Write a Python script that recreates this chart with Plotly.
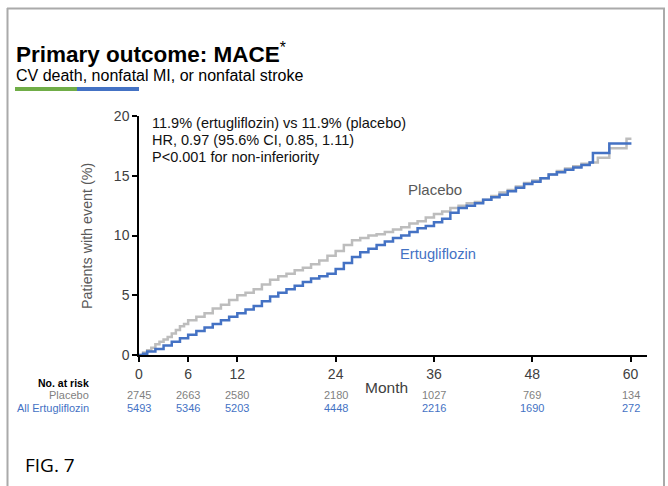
import plotly.graph_objects as go

# ---------------- data ----------------
placebo_month = [0, 0.5, 1, 1.5, 2, 2.5, 3, 3.5, 4, 4.5, 5, 5.5, 6, 7, 8, 9, 10, 11, 12, 13, 14, 15,
                 16, 17, 18, 19, 20, 21, 22, 23, 24, 25, 26, 27, 28, 29, 30, 31, 32, 33, 34, 35, 36,
                 37, 38, 39, 40, 41, 42, 43, 44, 45, 46, 47, 48, 49, 50, 51, 52, 53, 54, 55, 56,
                 57.4, 59.5, 60.1]
placebo_pct = [0, 0.2, 0.4, 0.6, 0.9, 1.1, 1.3, 1.5, 1.8, 2.1, 2.4, 2.6, 2.9, 3.2, 3.5, 3.9, 4.2, 4.6,
               5.0, 5.2, 5.5, 5.9, 6.3, 6.6, 6.8, 7.1, 7.3, 7.6, 7.9, 8.3, 8.7, 9.2, 9.6, 9.8, 10.0,
               10.1, 10.3, 10.5, 10.7, 11.0, 11.2, 11.5, 11.8, 12.0, 12.3, 12.5, 12.7, 12.8, 13.0,
               13.3, 13.6, 13.8, 14.1, 14.4, 14.6, 14.8, 15.1, 15.4, 15.6, 15.8, 16.0, 16.1, 16.5,
               17.3, 18.1, 18.1]

ertu_month = [0, 0.5, 1, 2, 3, 4, 5, 6, 7, 8, 9, 10, 11, 12, 13, 14, 15, 16, 17, 18, 19, 20, 21, 22,
              23, 24, 25, 26, 27, 28, 29, 30, 31, 32, 33, 34, 35, 36, 37, 38, 39, 40, 41, 42, 43, 44,
              45, 46, 47, 48, 49, 50, 51, 52, 53, 54, 55, 55.4, 57.4, 60.1]
ertu_pct = [0, 0.1, 0.3, 0.5, 0.8, 1.1, 1.4, 1.7, 2.0, 2.3, 2.6, 2.9, 3.2, 3.5, 3.8, 4.1, 4.5, 4.9,
            5.2, 5.5, 5.8, 6.1, 6.4, 6.6, 6.8, 7.2, 7.7, 8.2, 8.6, 8.9, 9.2, 9.5, 9.8, 10.0, 10.3,
            10.6, 10.8, 11.1, 11.4, 11.9, 12.3, 12.5, 12.7, 13.0, 13.2, 13.4, 13.7, 14.0, 14.3,
            14.5, 14.8, 15.1, 15.3, 15.5, 15.7, 15.9, 16.1, 16.9, 17.7, 17.7]

risk_months = [0, 6, 12, 24, 36, 48, 60]
risk_placebo = [2745, 2663, 2580, 2180, 1027, 769, 134]
risk_ertu = [5493, 5346, 5203, 4448, 2216, 1690, 272]
y_ticks = [0, 5, 10, 15, 20]

GRAY = "#BDBDBD"
BLUE = "#4472C4"
FONT = "Arial, Liberation Sans, sans-serif"

W, H = 668, 486
L, R, T, B = 139, 21, 116, 131
PW, PH = W - L - R, H - T - B


def px(x):
    return (x - L) / PW


def py(y):
    return (H - B - y) / PH


fig = go.Figure()
fig.add_trace(go.Scatter(x=placebo_month, y=placebo_pct, mode="lines", line_shape="hv",
                         line=dict(color=GRAY, width=2.5), cliponaxis=False, showlegend=False,
                         hoverinfo="skip"))
fig.add_trace(go.Scatter(x=ertu_month, y=ertu_pct, mode="lines", line_shape="hv",
                         line=dict(color=BLUE, width=2.5), cliponaxis=False, showlegend=False,
                         hoverinfo="skip"))

ann = []
# stats text
for i, t in enumerate(["11.9% (ertugliflozin) vs 11.9% (placebo)",
                       "HR, 0.97 (95.6% CI, 0.85, 1.11)",
                       "P<0.001 for non-inferiority"]):
    ann.append(dict(x=px(150), y=py(123 + 17 * i), xref="paper", yref="paper", text=t,
                    showarrow=False, xanchor="left", yanchor="middle",
                    font=dict(family=FONT, size=14.5, color="#111111")))
ann.append(dict(x=px(406), y=py(189), xref="paper", yref="paper", text="Placebo", showarrow=False,
                xanchor="left", yanchor="middle", font=dict(family=FONT, size=15, color="#595959")))
ann.append(dict(x=px(398), y=py(254), xref="paper", yref="paper", text="Ertugliflozin",
                showarrow=False, xanchor="left", yanchor="middle",
                font=dict(family=FONT, size=14.7, color=BLUE)))
# y axis title
ann.append(dict(x=px(87), y=py(236), xref="paper", yref="paper", text="Patients with event (%)",
                showarrow=False, textangle=-90, xanchor="center", yanchor="middle",
                font=dict(family=FONT, size=14.3, color="#595959")))
# x axis title
ann.append(dict(x=px(386), y=py(387), xref="paper", yref="paper", text="Month", showarrow=False,
                xanchor="center", yanchor="middle", font=dict(family=FONT, size=15.5, color="#404040")))
# number at risk
ann.append(dict(x=px(91), y=py(383), xref="paper", yref="paper", text="<b>No. at risk</b>",
                showarrow=False, xanchor="right", yanchor="middle",
                font=dict(family=FONT, size=10.5, color="#000000")))
ann.append(dict(x=px(91), y=py(395), xref="paper", yref="paper", text="Placebo", showarrow=False,
                xanchor="right", yanchor="middle", font=dict(family=FONT, size=11, color="#7F7F7F")))
ann.append(dict(x=px(91), y=py(408), xref="paper", yref="paper", text="All Ertugliflozin",
                showarrow=False, xanchor="right", yanchor="middle",
                font=dict(family=FONT, size=11, color=BLUE)))
for m, p, e in zip(risk_months, risk_placebo, risk_ertu):
    ann.append(dict(x=m, y=py(395), xref="x", yref="paper", text=str(p), showarrow=False,
                    xanchor="center", yanchor="middle",
                    font=dict(family=FONT, size=11, color="#7F7F7F")))
    ann.append(dict(x=m, y=py(408), xref="x", yref="paper", text=str(e), showarrow=False,
                    xanchor="center", yanchor="middle", font=dict(family=FONT, size=11, color=BLUE)))
# titles
ann.append(dict(x=px(14), y=py(53), xref="paper", yref="paper",
                text="<b>Primary outcome: MACE</b><sup>*</sup>", showarrow=False,
                xanchor="left", yanchor="middle", font=dict(family=FONT, size=22.5, color="#000000")))
ann.append(dict(x=px(14), y=py(75.5), xref="paper", yref="paper",
                text="CV death, nonfatal MI, or nonfatal stroke", showarrow=False,
                xanchor="left", yanchor="middle", font=dict(family=FONT, size=16, color="#000000")))
ann.append(dict(x=px(23), y=py(465), xref="paper", yref="paper", text="FIG. 7", showarrow=False,
                xanchor="left", yanchor="middle",
                font=dict(family="Open Sans, Noto Sans, sans-serif", size=19, color="#000000")))

shapes = [
    dict(type="line", xref="paper", yref="paper", x0=px(15), x1=px(77), y0=py(89), y1=py(89),
         line=dict(color="#70AD47", width=4)),
    dict(type="line", xref="paper", yref="paper", x0=px(77), x1=px(139), y0=py(89), y1=py(89),
         line=dict(color=BLUE, width=4)),
    # frame
    dict(type="line", xref="paper", yref="paper", x0=px(7.5), x1=px(7.5), y0=py(8), y1=py(490),
         line=dict(color="#AAAAAA", width=2)),
    dict(type="line", xref="paper", yref="paper", x0=px(7), x1=px(665), y0=py(8.5), y1=py(8.5),
         line=dict(color="#AAAAAA", width=2)),
    dict(type="line", xref="paper", yref="paper", x0=px(664), x1=px(664), y0=py(8), y1=py(490),
         line=dict(color="#AAAAAA", width=2)),
]

fig.update_layout(
    width=W, height=H, margin=dict(l=L, r=R, t=T, b=B),
    paper_bgcolor="white", plot_bgcolor="white",
    annotations=ann, shapes=shapes,
    xaxis=dict(range=[0, 62], tickvals=risk_months, showgrid=False, zeroline=False,
               showline=True, linecolor="#000000", linewidth=1.5, ticks="outside", ticklen=5,
               tickcolor="#000000", tickwidth=1.5,
               tickfont=dict(family=FONT, size=14, color="#404040")),
    yaxis=dict(range=[0, 20], tickvals=y_ticks, showgrid=False, zeroline=False,
               showline=True, linecolor="#000000", linewidth=1.5, ticks="outside", ticklen=5,
               tickcolor="#000000", tickwidth=1.5,
               tickfont=dict(family=FONT, size=14, color="#404040")),
)

fig.write_html("out.html", config={"displayModeBar": False},
               post_script="document.body.style.margin='0';")
